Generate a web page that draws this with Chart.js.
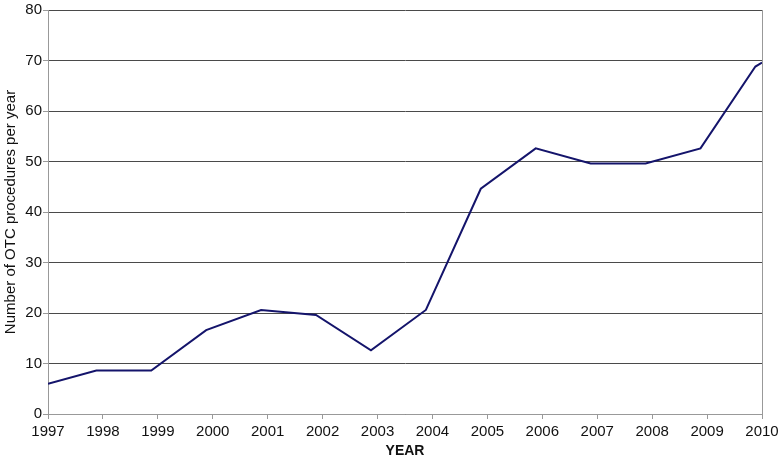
<!DOCTYPE html>
<html>
<head>
<meta charset="utf-8">
<script src="https://cdn.jsdelivr.net/npm/chart.js@4"></script>
<style>
  html, body { margin: 0; padding: 0; background: #fff; }
  #wrap { width: 780px; height: 460px; }
</style>
</head>
<body>
<div id="wrap"><canvas id="otcChart" width="780" height="460"></canvas></div>
<script>
// point positions along the year axis (the original plots them just before each tick)
const pointYears = [1997, 1997.88, 1998.88, 1999.88, 2000.88, 2001.88, 2002.88, 2003.88,
    2004.88, 2005.88, 2006.88, 2007.88, 2008.88, 2009.88, 2010];
const procedures = [6, 8.6, 8.6, 16.6, 20.6, 19.6, 12.6, 20.6,
    44.6, 52.6, 49.6, 49.6, 52.6, 68.8, 69.6];
const yearTicks = [1997, 1998, 1999, 2000, 2001, 2002, 2003, 2004, 2005, 2006, 2007, 2008, 2009, 2010];

const points = pointYears.map((x, i) => ({ x: x, y: procedures[i] }));
const fontFamily = "'Liberation Sans', Arial, Helvetica, sans-serif";

new Chart(document.getElementById("otcChart").getContext("2d"), {
    type: "line",
    data: {
        datasets: [{
            data: points,
            borderColor: "#14146b",
            borderWidth: 2,
            pointRadius: 0,
            tension: 0,
            fill: false,
        }],
    },
    options: {
        responsive: false,
        animation: false,
        layout: { padding: { top: 10, right: 18, left: 0, bottom: 0 } },
        plugins: { legend: { display: false }, tooltip: { enabled: false } },
        scales: {
            x: {
                type: "linear",
                min: 1997,
                max: 2010,
                afterBuildTicks: (axis) => { axis.ticks = yearTicks.map(v => ({ value: v })); },
                afterFit: (axis) => {
                    axis.height = 46;
                    axis.paddingLeft = 0;
                    axis.paddingRight = 0;
                },
                ticks: {
                    callback: (v) => String(v),
                    color: "#111",
                    font: { family: fontFamily, size: 15 },
                    padding: 4,
                    maxRotation: 0,
                },
                grid: {
                    color: (ctx) => ctx.index === yearTicks.length - 1 ? "#999" : "transparent",
                    tickColor: "#999",
                    tickLength: 5,
                },
                border: { color: "#999", width: 1 },
                title: {
                    display: true,
                    text: "YEAR",
                    color: "#111",
                    font: { family: fontFamily, size: 14, weight: "bold" },
                    padding: { top: 0, bottom: 0 },
                },
            },
            y: {
                min: 0,
                max: 80,
                afterFit: (axis) => { axis.width = 48; },
                ticks: {
                    stepSize: 10,
                    color: "#111",
                    font: { family: fontFamily, size: 15 },
                    padding: 1,
                },
                grid: {
                    color: "#4a4a4a",
                    tickColor: "#999",
                    tickLength: 5,
                },
                border: { color: "#999", width: 1 },
                title: {
                    display: true,
                    text: "Number of OTC procedures per year",
                    color: "#111",
                    font: { family: fontFamily, size: 15 },
                    padding: { top: 2, bottom: 2 },
                },
            },
        },
    },
});
</script>
</body>
</html>
